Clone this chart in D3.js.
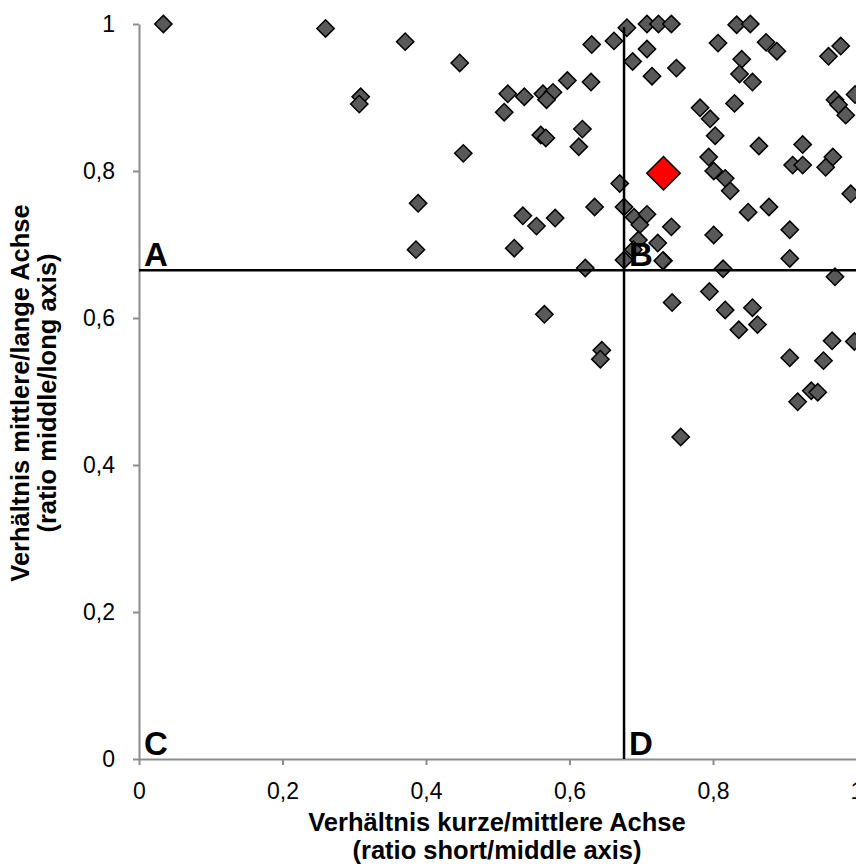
<!DOCTYPE html>
<html>
<head>
<title>Achsenverhältnisse</title>
<script src="https://d3js.org/d3.v7.min.js"></script>
<style>
  body { margin: 0; background: #fff; }
  svg { display: block; font-family: "Liberation Sans", Arial, sans-serif; }
</style>
</head>
<body>
<svg width="856" height="868"></svg>
<script>
// ratio short/middle axis (x) and middle/long axis (y)
var shortMiddle = [
  0.034, 0.260, 0.309, 0.307, 0.371, 0.447, 0.514, 0.537, 0.563, 0.577,
  0.568, 0.509, 0.560, 0.567, 0.452, 0.389, 0.386, 0.680, 0.708, 0.724,
  0.742, 0.631, 0.662, 0.708, 0.688, 0.715, 0.749, 0.597, 0.630, 0.618,
  0.613, 0.670, 0.833, 0.852, 0.807, 0.874, 0.889, 0.961, 0.978, 0.840,
  0.837, 0.855, 0.830, 0.970, 0.975, 0.985, 0.998, 0.782, 0.796, 0.803,
  0.864, 0.925, 0.911, 0.925, 0.967, 0.957, 0.794, 0.801, 0.817, 0.824,
  0.992, 0.849, 0.878, 0.742, 0.801, 0.907, 0.731, 0.814, 0.907, 0.970,
  0.795, 0.743, 0.817, 0.855, 0.862, 0.836, 0.907, 0.954, 0.966, 0.997,
  0.535, 0.554, 0.580, 0.635, 0.523, 0.676, 0.690, 0.708, 0.698, 0.696,
  0.723, 0.689, 0.676, 0.730, 0.622, 0.565, 0.645, 0.643, 0.755, 0.918,
  0.937, 0.946];
var middleLong = [
  1.000, 0.994, 0.901, 0.891, 0.976, 0.947, 0.905, 0.901, 0.905, 0.907,
  0.897, 0.880, 0.849, 0.845, 0.824, 0.756, 0.693, 0.995, 1.000, 1.000,
  1.000, 0.972, 0.977, 0.966, 0.949, 0.929, 0.940, 0.923, 0.921, 0.857,
  0.833, 0.783, 0.999, 1.000, 0.974, 0.975, 0.963, 0.956, 0.970, 0.952,
  0.932, 0.921, 0.892, 0.897, 0.890, 0.876, 0.904, 0.886, 0.871, 0.848,
  0.834, 0.836, 0.808, 0.808, 0.819, 0.805, 0.819, 0.800, 0.790, 0.773,
  0.769, 0.744, 0.751, 0.724, 0.713, 0.720, 0.678, 0.667, 0.681, 0.656,
  0.636, 0.621, 0.611, 0.614, 0.591, 0.584, 0.546, 0.542, 0.569, 0.568,
  0.739, 0.725, 0.736, 0.751, 0.695, 0.751, 0.737, 0.741, 0.727, 0.706,
  0.702, 0.693, 0.679, 0.678, 0.668, 0.605, 0.556, 0.544, 0.438, 0.486,
  0.501, 0.499];
// highlighted specimen
var highlight = [0.731, 0.797];

// class boundaries and labels
var limitX = 0.676;
var limitY = 0.665;
var ticks = [0, 0.2, 0.4, 0.6, 0.8, 1];
var quadrants = [
  {label: "A", x: 0, y: limitY},
  {label: "B", x: limitX, y: limitY},
  {label: "C", x: 0, y: 0},
  {label: "D", x: limitX, y: 0}];

var points = shortMiddle.map(function(d, i){ return [d, middleLong[i]]; });

var svg = d3.select("svg");
var x = d3.scaleLinear().domain([0, 1]).range([139, 856.5]);
var y = d3.scaleLinear().domain([0, 1]).range([759, 24]);
var comma = function(d){ return String(d).replace(".", ","); };

// axes
svg.append("g")
    .attr("transform", "translate(0," + y(0) + ")")
    .call(d3.axisBottom(x).tickValues(ticks).tickFormat(comma)
          .tickSize(6).tickSizeOuter(0).tickPadding(18));
svg.append("g")
    .attr("transform", "translate(" + x(0) + ",0)")
    .call(d3.axisLeft(y).tickValues(ticks).tickFormat(comma)
          .tickSize(6).tickSizeOuter(0).tickPadding(18));
svg.selectAll(".domain, .tick line")
    .attr("stroke", "#8c8c8c")
    .attr("stroke-width", 2);
svg.selectAll(".tick text")
    .attr("fill", "#000")
    .style("font-size", "23px");

// markers
var square = d3.symbol().type(d3.symbolSquare);
svg.append("g").selectAll("path")
    .data(points)
  .enter().append("path")
    .attr("d", square.size(150))
    .attr("transform", function(d){
        return "translate(" + x(d[0]) + "," + y(d[1]) + ") rotate(45)"; })
    .attr("fill", "#595959")
    .attr("stroke", "#000")
    .attr("stroke-width", 1.5);
svg.append("path")
    .attr("d", d3.symbol().type(d3.symbolSquare).size(560))
    .attr("transform",
          "translate(" + x(highlight[0]) + "," + y(highlight[1]) + ") rotate(45)")
    .attr("fill", "#ff0000")
    .attr("stroke", "#000")
    .attr("stroke-width", 1.5);

// class boundaries
svg.append("line")
    .attr("x1", x(limitX)).attr("x2", x(limitX))
    .attr("y1", y(0.996)).attr("y2", y(0))
    .attr("stroke", "#000").attr("stroke-width", 2.5);
svg.append("line")
    .attr("x1", x(0)).attr("x2", x(1))
    .attr("y1", y(limitY)).attr("y2", y(limitY))
    .attr("stroke", "#000").attr("stroke-width", 2.5);

svg.append("g").selectAll("text")
    .data(quadrants)
  .enter().append("text")
    .attr("x", function(d){ return x(d.x) + 5; })
    .attr("y", function(d){ return y(d.y) - 4; })
    .style("font-size", "33px")
    .style("font-weight", "bold")
    .text(function(d){ return d.label; });

// axis titles
var xTitle = svg.append("text")
    .attr("text-anchor", "middle")
    .style("font-size", "25.5px")
    .style("font-weight", "bold");
xTitle.append("tspan").attr("x", 497).attr("y", 831)
    .text("Verhältnis kurze/mittlere Achse");
xTitle.append("tspan").attr("x", 497).attr("y", 859)
    .text("(ratio short/middle axis)");

var yTitle = svg.append("text")
    .attr("text-anchor", "middle")
    .attr("transform", "translate(0,393) rotate(-90)")
    .style("font-size", "25.5px")
    .style("font-weight", "bold");
yTitle.append("tspan").attr("x", 0).attr("y", 29)
    .text("Verhältnis mittlere/lange Achse");
yTitle.append("tspan").attr("x", 0).attr("y", 56)
    .text("(ratio middle/long axis)");
</script>
</body>
</html>
